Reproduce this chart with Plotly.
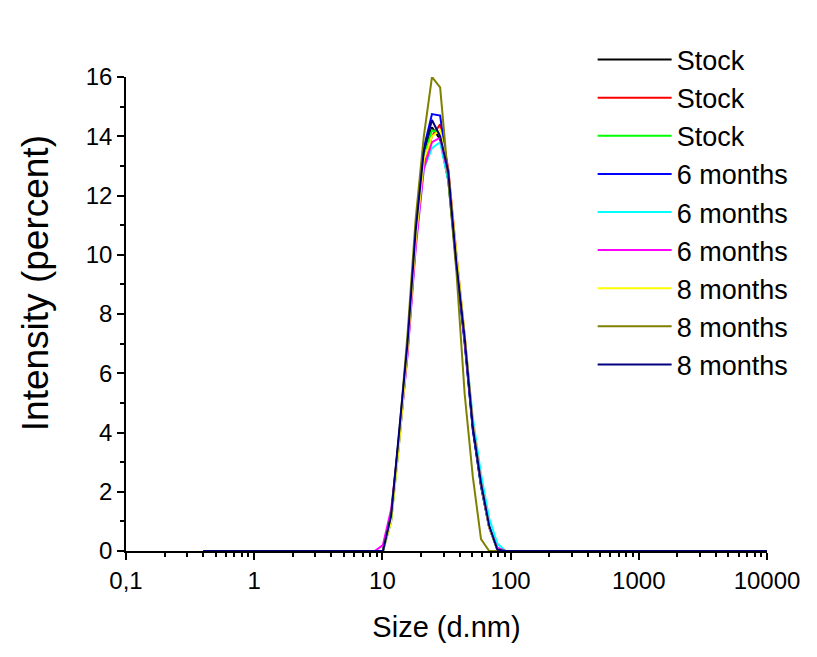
import plotly.graph_objects as go

# Size bins (d.nm)
sizes = [0.4, 0.4632, 0.5365, 0.6213, 0.7195, 0.8332, 0.9649, 1.117, 1.294, 1.499,
         1.736, 2.01, 2.328, 2.696, 3.122, 3.615, 4.187, 4.849, 5.615, 6.503,
         7.531, 8.721, 10.1, 11.7, 13.54, 15.69, 18.17, 21.04, 24.36, 28.21,
         32.67, 37.84, 43.82, 50.75, 58.77, 68.06, 78.82, 91.28, 105.7, 122.4,
         141.8, 164.2, 190.1, 220.2, 255.0, 295.3, 342.0, 396.1, 458.7, 531.2,
         615.1, 712.4, 825.0, 955.4, 1106, 1281, 1484, 1718, 1990, 2305,
         2669, 3091, 3580, 4145, 4801, 5560, 6439, 7456, 8635, 10000]

lead = [0.0] * 22    # 0.4 .. 8.721 nm
tail = [0.0] * 32    # 105.7 .. 10000 nm

# Intensity (%) for bins 10.1 .. 91.28 nm
stock_1 = lead + [0.0, 1.2, 3.9, 6.9, 10.7, 13.4, 14.3, 13.9, 12.5, 9.6, 7.1, 4.1, 2.2, 0.8, 0.05, 0.0] + tail
stock_2 = lead + [0.0, 1.0, 3.7, 6.7, 10.4, 13.1, 14.0, 14.4, 12.9, 10.0, 7.3, 4.3, 2.3, 0.8, 0.1, 0.0] + tail
stock_3 = lead + [0.0, 1.1, 3.8, 6.9, 10.6, 13.3, 14.2, 14.1, 12.6, 9.7, 7.1, 4.2, 2.2, 0.8, 0.05, 0.0] + tail
m6_1 = lead + [0.0, 1.1, 3.9, 7.0, 10.8, 13.6, 14.75, 14.7, 12.7, 9.6, 7.0, 4.1, 2.2, 0.8, 0.05, 0.0] + tail
m6_2 = lead + [0.0, 1.0, 3.7, 6.7, 10.3, 12.9, 13.6, 13.8, 12.5, 9.9, 7.3, 4.5, 2.6, 1.1, 0.25, 0.0] + tail
m6_3 = lead + [0.2, 1.4, 3.8, 6.6, 10.2, 12.9, 13.8, 13.95, 12.7, 9.9, 7.2, 4.3, 2.3, 0.8, 0.1, 0.0] + tail
m8_1 = lead + [0.0, 1.0, 3.7, 6.8, 10.5, 13.2, 14.0, 14.2, 12.8, 10.0, 7.3, 4.3, 2.3, 0.8, 0.05, 0.0] + tail
m8_2 = lead + [0.0, 1.2, 4.0, 7.3, 11.2, 14.0, 16.0, 15.65, 12.6, 9.4, 5.3, 2.5, 0.4, 0.0, 0.0, 0.0] + tail
m8_3 = lead + [0.0, 1.2, 4.0, 7.0, 10.8, 13.5, 14.55, 14.0, 12.8, 9.7, 7.2, 4.2, 2.3, 0.85, 0.05, 0.0] + tail

series = [
    ("Stock", stock_1, "#000000"),
    ("Stock", stock_2, "#ff0000"),
    ("Stock", stock_3, "#00ff00"),
    ("6 months", m6_1, "#0000ff"),
    ("6 months", m6_2, "#00ffff"),
    ("6 months", m6_3, "#ff00ff"),
    ("8 months", m8_1, "#ffff00"),
    ("8 months", m8_2, "#808000"),
    ("8 months", m8_3, "#000080"),
]

x_tickvals = [0.1, 1, 10, 100, 1000, 10000]
x_ticktext = ["0,1", "1", "10", "100", "1000", "10000"]
x_minor = [m * 10 ** e for e in (-1, 0, 1, 2, 3) for m in range(2, 10)]

FONT = "Arial, Liberation Sans, sans-serif"

fig = go.Figure()
for name, vals, color in series:
    fig.add_trace(go.Scatter(x=sizes, y=vals, mode="lines", name=name,
                             line=dict(color=color, width=2)))

fig.update_layout(
    width=817, height=657,
    margin=dict(l=118, r=58, t=69, b=114),
    paper_bgcolor="white", plot_bgcolor="white",
    font=dict(family=FONT, color="black", size=24),
    showlegend=True,
    legend=dict(x=0.728, y=1.0875, xanchor="left", yanchor="top",
                font=dict(size=27, family=FONT), bgcolor="rgba(0,0,0,0)",
                itemwidth=74, tracegroupgap=0, maxheight=600),
    annotations=[dict(text="Intensity (percent)", textangle=-90,
                      xref="paper", yref="paper", x=-0.142, y=0.565,
                      xanchor="center", yanchor="middle", showarrow=False,
                      font=dict(size=37, family=FONT, color="black"))],
)
fig.update_xaxes(
    type="log", range=[-1, 4],
    tickvals=x_tickvals, ticktext=x_ticktext,
    ticks="outside", ticklen=7, tickwidth=1.5, tickcolor="black",
    minor=dict(tickvals=x_minor, ticks="outside", ticklen=4, tickwidth=1.5, tickcolor="black"),
    showline=True, linecolor="black", linewidth=1.5,
    showgrid=False, zeroline=False,
    tickfont=dict(size=24, family=FONT),
    title=dict(text="Size (d.nm)", font=dict(size=29, family=FONT), standoff=24),
)
fig.update_yaxes(
    range=[0, 16], dtick=2, tick0=0,
    ticks="outside", ticklen=7, tickwidth=1.5, tickcolor="black",
    minor=dict(dtick=1, ticks="outside", ticklen=4, tickwidth=1.5, tickcolor="black"),
    showline=True, linecolor="black", linewidth=1.5,
    showgrid=False, zeroline=False,
    tickfont=dict(size=24, family=FONT),
)

fig.write_html("out.html")
